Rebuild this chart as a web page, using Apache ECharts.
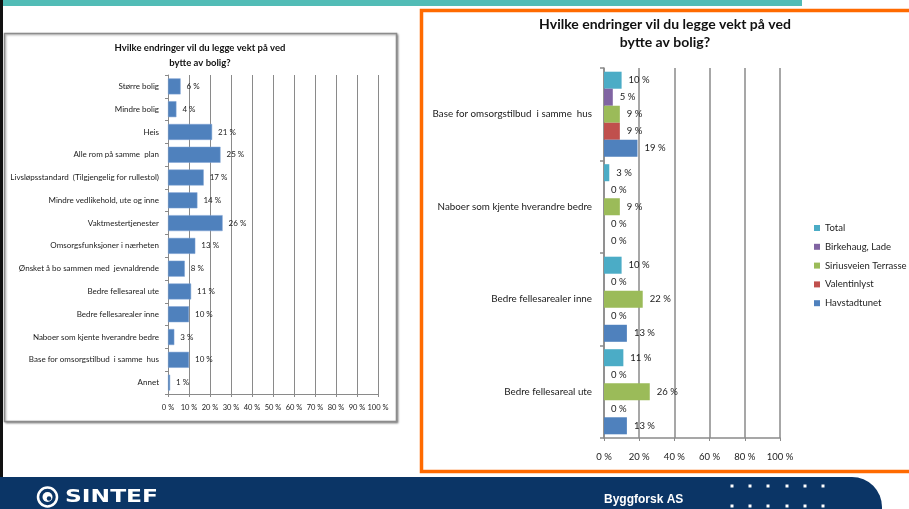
<!DOCTYPE html>
<html>
<head>
<meta charset="utf-8">
<title>Hvilke endringer vil du legge vekt på ved bytte av bolig?</title>
<script src="https://cdn.jsdelivr.net/npm/echarts@6/dist/echarts.min.js"></script>
<style>
	html, body { margin: 0; padding: 0; background: #ffffff; }
	#chart { width: 909px; height: 509px; }
</style>
</head>
<body>
<div id="chart"></div>
<script>
	// venstre diagram: alle svar
	var leftCategories = [
		"Større bolig",
		"Mindre bolig",
		"Heis",
		"Alle rom på samme  plan",
		"Livsløpsstandard  (Tilgjengelig for rullestol)",
		"Mindre vedlikehold, ute og inne",
		"Vaktmestertjenester",
		"Omsorgsfunksjoner i nærheten",
		"Ønsket å bo sammen med  jevnaldrende",
		"Bedre fellesareal ute",
		"Bedre fellesarealer inne",
		"Naboer som kjente hverandre bedre",
		"Base for omsorgstilbud  i samme  hus",
		"Annet"
	];
	var leftValues = [6, 4, 21, 25, 17, 14, 26, 13, 8, 11, 10, 3, 10, 1];

	// høyre diagram: per boligprosjekt
	var rightCategories = [
		"Base for omsorgstilbud  i samme  hus",
		"Naboer som kjente hverandre bedre",
		"Bedre fellesarealer inne",
		"Bedre fellesareal ute"
	];
	var seriesNames = ["Total", "Birkehaug, Lade", "Siriusveien Terrasse", "Valentinlyst", "Havstadtunet"];
	var totalValues = [10, 3, 10, 11];
	var birkehaugValues = [5, 0, 0, 0];
	var siriusveienValues = [9, 9, 22, 26];
	var valentinlystValues = [9, 0, 0, 0];
	var havstadtunetValues = [19, 0, 13, 13];
	var seriesColors = ["#4BACC6", "#8064A2", "#9BBB59", "#C0504D", "#4F81BD"];

	var font = "Lato, 'Open Sans', sans-serif";
	var gridColor = "#8a8a8a";

	function init_chart() {
		var myChart = echarts.init(document.getElementById("chart"), null, { renderer: "canvas" });

		var rightData = [totalValues, birkehaugValues, siriusveienValues, valentinlystValues, havstadtunetValues];
		var series = [];

		series.push({
			name: "Alle",
			type: "bar",
			xAxisIndex: 0,
			yAxisIndex: 0,
			barCategoryGap: "30%",
			itemStyle: { color: "#4F81BD", borderColor: "#7fa3d4", borderWidth: 0.5 },
			label: {
				show: true,
				position: "right",
				distance: 6,
				formatter: "{c} %",
				fontSize: 8,
				fontFamily: font,
				color: "#222"
			},
			data: leftValues
		});

		for (var i = 0; i < seriesNames.length; i++) {
			series.push({
				name: seriesNames[i],
				type: "bar",
				xAxisIndex: 1,
				yAxisIndex: 1,
				barGap: 0,
				barCategoryGap: "8%",
				itemStyle: { color: seriesColors[i] },
				label: {
					show: true,
					position: "right",
					distance: 7,
					formatter: "{c} %",
					fontSize: 9.5,
					fontFamily: font,
					color: "#222"
				},
				data: rightData[i]
			});
		}

		// pynt rundt diagrammene (lysbilde)
		var dots = [];
		var dotX = [732, 750, 768, 787, 805, 823];
		var dotY = [486, 506];
		for (var a = 0; a < dotY.length; a++) {
			for (var b = 0; b < dotX.length; b++) {
				dots.push({
					type: "rect",
					z: 3,
					shape: { x: dotX[b] - 1.5, y: dotY[a] - 1.5, width: 3, height: 3 },
					style: { fill: "#ffffff" }
				});
			}
		}

		var option = {
			animation: false,
			backgroundColor: "#ffffff",
			textStyle: { fontFamily: font },
			graphic: [
				{ type: "rect", z: 0, shape: { x: 0, y: 0, width: 802, height: 6 }, style: { fill: "#52bcb6" } },
				{ type: "rect", z: 0, shape: { x: 0, y: 0, width: 3, height: 478 }, style: { fill: "#111111" } },
				{
					type: "rect", z: 0,
					shape: { x: 4.5, y: 33.5, width: 392, height: 388 },
					style: { fill: "#ffffff", stroke: "#8c8c8c", lineWidth: 1.5, shadowBlur: 2, shadowOffsetX: 1, shadowOffsetY: 1, shadowColor: "rgba(0,0,0,0.35)" }
				},
				{
					type: "rect", z: 0,
					shape: { x: 421.5, y: 10.5, width: 500, height: 461 },
					style: { fill: "#ffffff", stroke: "#ff6a00", lineWidth: 3.5 }
				},
				{
					type: "text", z: 5, x: 200, y: 40,
					style: {
						text: "Hvilke endringer vil du legge vekt på ved\nbytte av bolig?",
						fontSize: 9.5, fontWeight: "bold", fontFamily: font, fill: "#111",
						textAlign: "center", lineHeight: 15
					}
				},
				{
					type: "text", z: 5, x: 665, y: 15,
					style: {
						text: "Hvilke endringer vil du legge vekt på ved\nbytte av bolig?",
						fontSize: 14, fontWeight: "bold", fontFamily: font, fill: "#111",
						textAlign: "center", lineHeight: 18
					}
				},
				{
					type: "rect", z: 1,
					shape: { x: 0, y: 477, width: 882, height: 40, r: [0, 30, 0, 0] },
					style: { fill: "#0b3566" }
				},
				{ type: "circle", z: 3, shape: { cx: 47.5, cy: 497, r: 9.5 }, style: { fill: "none", stroke: "#ffffff", lineWidth: 2.5 } },
				{ type: "circle", z: 3, shape: { cx: 47.5, cy: 497, r: 5 }, style: { fill: "#ffffff" } },
				{ type: "circle", z: 4, shape: { cx: 49, cy: 498.5, r: 2.2 }, style: { fill: "#0b3566" } },
				{
					type: "text", z: 3, x: 65, y: 497, scaleX: 1.3,
					style: { text: "SINTEF", fontSize: 18, fontWeight: "bold", fontFamily: "'DejaVu Sans', sans-serif", fill: "#ffffff", textVerticalAlign: "middle" }
				},
				{
					type: "text", z: 3, x: 604, y: 500,
					style: { text: "Byggforsk AS", fontSize: 12, fontWeight: "bold", fontFamily: "'Liberation Sans', Arial, sans-serif", fill: "#ffffff", textVerticalAlign: "middle" }
				}
			].concat(dots),
			legend: {
				data: seriesNames,
				orient: "vertical",
				left: 809,
				top: 218,
				icon: "rect",
				itemWidth: 6,
				itemHeight: 6,
				itemGap: 8.8,
				textStyle: { fontSize: 9.5, fontFamily: font, color: "#222" }
			},
			grid: [
				{ left: 168, top: 75, width: 210, height: 319 },
				{ left: 604, top: 68, width: 176, height: 370 }
			],
			xAxis: [
				{
					type: "value", gridIndex: 0, min: 0, max: 100, interval: 10,
					axisLine: { show: true, lineStyle: { color: gridColor } },
					axisTick: { show: true, length: 3, lineStyle: { color: gridColor } },
					axisLabel: { formatter: "{value} %", fontSize: 7.5, color: "#222", margin: 10 },
					splitLine: { show: true, lineStyle: { color: gridColor, width: 1 } }
				},
				{
					type: "value", gridIndex: 1, min: 0, max: 100, interval: 20,
					axisLine: { show: true, lineStyle: { color: gridColor, width: 1.5 } },
					axisTick: { show: true, length: 3, lineStyle: { color: gridColor } },
					axisLabel: { formatter: "{value} %", fontSize: 9.5, color: "#222", margin: 14 },
					splitLine: { show: true, lineStyle: { color: gridColor, width: 1.5 } }
				}
			],
			yAxis: [
				{
					type: "category", gridIndex: 0, inverse: true, data: leftCategories,
					axisLine: { show: true, lineStyle: { color: gridColor } },
					axisTick: { show: true, length: 3, lineStyle: { color: gridColor } },
					axisLabel: { fontSize: 8, color: "#1a1a1a", margin: 9 }
				},
				{
					type: "category", gridIndex: 1, inverse: true, data: rightCategories,
					axisLine: { show: true, lineStyle: { color: gridColor, width: 1.5 } },
					axisTick: { show: true, length: 4, lineStyle: { color: gridColor, width: 1.5 } },
					axisLabel: { fontSize: 9.8, color: "#1a1a1a", margin: 12 }
				}
			],
			series: series
		};

		myChart.setOption(option);
	}

	init_chart();
</script>
</body>
</html>
